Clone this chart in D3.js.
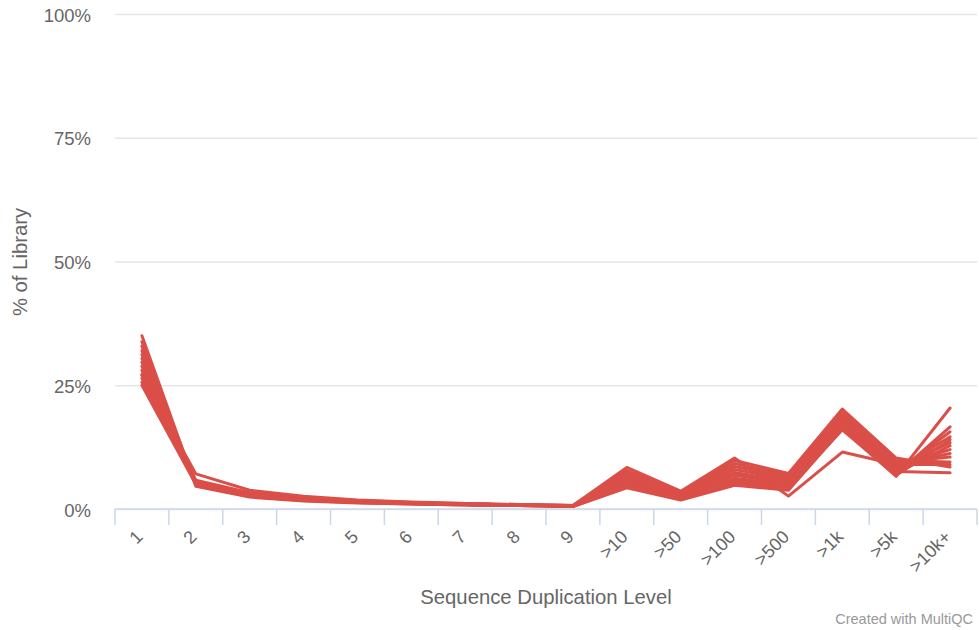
<!DOCTYPE html>
<html>
<head>
<meta charset="utf-8">
<script src="https://cdn.jsdelivr.net/npm/d3@7"></script>
<style>
  html, body { margin: 0; padding: 0; background: #fff; }
  svg { display: block; font-family: "Liberation Sans", Arial, sans-serif; }
</style>
</head>
<body>
<svg id="chart" width="979" height="630"></svg>
<script>
// Duplication level categories (x axis)
const categories = ["1", "2", "3", "4", "5", "6", "7", "8", "9",
  ">10", ">50", ">100", ">500", ">1k", ">5k", ">10k+"];

// Y axis ticks (% of library)
const yTicks = [0, 25, 50, 75, 100];

// Per-sample % of library at each duplication level
const s01 = [35.0, 4.6, 2.4, 1.6, 1.2, 1.0, 0.8, 0.7, 0.5, 4.3, 1.8, 4.8, 3.8, 16.2, 6.6, 20.4];
const s02 = [33.8, 4.8, 2.5, 1.7, 1.3, 1.0, 0.8, 0.7, 0.5, 4.6, 1.9, 5.2, 4.0, 16.8, 7.0, 16.6];
const s03 = [32.9, 5.0, 2.6, 1.8, 1.3, 1.1, 0.9, 0.7, 0.6, 5.0, 2.0, 5.6, 4.3, 17.2, 7.4, 15.6];
const s04 = [32.0, 5.1, 2.7, 1.8, 1.4, 1.1, 0.9, 0.7, 0.6, 5.4, 2.2, 6.2, 4.8, 17.6, 7.8, 14.6];
const s05 = [31.2, 5.2, 2.8, 1.9, 1.4, 1.1, 0.9, 0.8, 0.6, 5.8, 2.3, 6.8, 5.2, 18.0, 8.2, 13.4];
const s06 = [30.4, 5.3, 2.9, 1.9, 1.5, 1.2, 0.9, 0.8, 0.6, 6.2, 2.5, 7.4, 5.6, 18.4, 8.6, 12.0];
const s07 = [29.6, 5.4, 3.0, 2.0, 1.5, 1.2, 1.0, 0.8, 0.6, 6.6, 2.7, 8.0, 6.0, 18.8, 9.0, 11.2];
const s08 = [28.8, 5.5, 3.1, 2.1, 1.6, 1.2, 1.0, 0.8, 0.7, 7.0, 2.9, 8.6, 6.4, 19.2, 9.4, 10.5];
const s09 = [28.0, 5.6, 3.2, 2.1, 1.6, 1.3, 1.0, 0.8, 0.7, 7.4, 3.1, 9.2, 6.8, 19.6, 9.8, 9.5];
const s10 = [27.2, 5.8, 3.3, 2.2, 1.7, 1.3, 1.1, 0.9, 0.7, 7.8, 3.3, 9.8, 7.2, 20.2, 10.3, 8.5];
const s11 = [26.4, 5.5, 3.0, 2.0, 1.5, 1.2, 1.0, 0.8, 0.6, 6.0, 2.4, 7.0, 5.4, 17.0, 7.6, 7.3];
const s12 = [25.6, 5.2, 2.8, 1.9, 1.4, 1.1, 0.9, 0.8, 0.6, 5.2, 2.1, 6.0, 4.6, 16.4, 7.2, 12.8];
const s13 = [25.0, 5.0, 2.7, 1.8, 1.4, 1.1, 0.9, 0.7, 0.6, 4.8, 2.0, 5.4, 4.2, 16.0, 6.8, 14.0];
const s14 = [27.0, 7.1, 3.8, 2.6, 1.8, 1.4, 1.1, 0.9, 0.7, 8.4, 3.6, 10.3, 2.6, 11.5, 9.0, 9.0];

const samples = [s01, s02, s03, s04, s05, s06, s07, s08, s09, s10, s11, s12, s13, s14];

const lineColor = "#db4f49";
const textColor = "#666666";

const svg = d3.select("#chart");
const margin = { left: 115, right: 2, top: 14, bottom: 121 };
const W = +svg.attr("width"), H = +svg.attr("height");
const plotW = W - margin.left - margin.right;
const plotH = H - margin.top - margin.bottom;

const x = d3.scaleBand().domain(categories).range([0, plotW]).padding(0);
const y = d3.scaleLinear().domain([0, 100]).range([plotH, 0]);

const g = svg.append("g").attr("transform", `translate(${margin.left},${margin.top})`);

// Horizontal grid lines
const yAxis = d3.axisLeft(y).tickValues(yTicks).tickSize(-plotW).tickFormat(d => d + "%");
const yG = g.append("g").call(yAxis);
yG.select(".domain").remove();
yG.selectAll(".tick line").attr("stroke", "#e6e6e6").attr("stroke-width", 1.5);
yG.selectAll(".tick text")
  .attr("x", -24).attr("dy", "0.38em")
  .attr("fill", textColor).style("font-size", "18.5px")
  .attr("font-family", null);

// X axis: line plus tick marks on category boundaries
const xAxisG = g.append("g").attr("transform", `translate(0,${plotH})`);
xAxisG.append("line")
  .attr("x1", 0).attr("x2", plotW).attr("y1", 0).attr("y2", 0)
  .attr("stroke", "#ccd6eb").attr("stroke-width", 1.5);
const boundaries = categories.map(c => x(c)).concat([plotW]);
xAxisG.selectAll("line.tk").data(boundaries).join("line")
  .attr("class", "tk")
  .attr("x1", d => d).attr("x2", d => d)
  .attr("y1", 0).attr("y2", 16)
  .attr("stroke", "#ccd6eb").attr("stroke-width", 1.5);
xAxisG.selectAll("text.lbl").data(categories).join("text")
  .attr("class", "lbl")
  .attr("transform", d => `translate(${x(d) + x.bandwidth() / 2 + 2},${29}) rotate(-45)`)
  .attr("text-anchor", "end")
  .attr("fill", textColor)
  .style("font-size", "18px")
  .text(d => d);

// Sample lines
const line = d3.line()
  .x((d, i) => x(categories[i]) + x.bandwidth() / 2)
  .y(d => y(d));
g.append("g").selectAll("path").data(samples).join("path")
  .attr("d", line)
  .attr("fill", "none")
  .attr("stroke", lineColor)
  .attr("stroke-width", 3)
  .attr("stroke-linejoin", "round")
  .attr("stroke-linecap", "round");

// Axis titles
svg.append("text")
  .attr("x", margin.left + plotW / 2).attr("y", 604)
  .attr("text-anchor", "middle")
  .attr("fill", textColor).style("font-size", "20.3px")
  .text("Sequence Duplication Level");

svg.append("text")
  .attr("transform", `translate(27,262) rotate(-90)`)
  .attr("text-anchor", "middle")
  .attr("fill", textColor).style("font-size", "20.3px")
  .text("% of Library");

// Credits
svg.append("text")
  .attr("x", 973).attr("y", 624)
  .attr("text-anchor", "end")
  .attr("fill", "#999999").style("font-size", "14.5px")
  .text("Created with MultiQC");
</script>
</body>
</html>
